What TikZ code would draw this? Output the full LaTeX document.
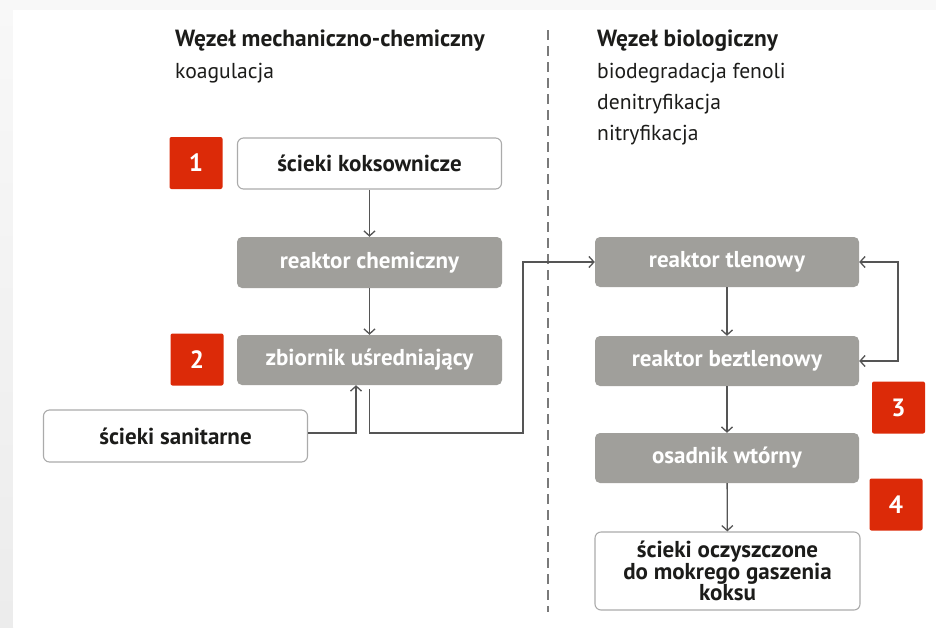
\documentclass[tikz,border=0pt]{standalone}
\usepackage{fontspec}
\setmainfont{PT Sans}
\usetikzlibrary{arrows.meta}
\definecolor{redsq}{HTML}{DC2A08}
\definecolor{boxgray}{HTML}{A09F9B}
\definecolor{linegray}{HTML}{555555}
\definecolor{bordergray}{HTML}{ABABAB}
\definecolor{txt}{HTML}{1C1C1A}
\definecolor{bgtop}{HTML}{F8F8F8}
\definecolor{bgbot}{HTML}{ECECEC}
\definecolor{dashgray}{HTML}{7A7A7A}
\begin{document}
\begin{tikzpicture}[x=1pt,y=-1pt,
  graybox/.style={fill=boxgray, rounded corners=5pt, minimum width=265pt, minimum height=51pt,
    text=white, font=\bfseries\fontsize{23}{24}\selectfont, inner sep=0pt},
  whitebox/.style={draw=bordergray, line width=1.1pt, fill=white, rounded corners=6pt,
    minimum width=264pt, minimum height=51pt, text=txt,
    font=\bfseries\fontsize{23}{24}\selectfont, inner sep=0pt, align=center},
  numsq/.style={fill=redsq, rounded corners=2pt, minimum width=53pt, minimum height=52pt,
    text=white, font=\bfseries\fontsize{25}{26}\selectfont, inner sep=0pt},
  flow/.style={draw=linegray, line width=1.3pt, -{Straight Barb[length=5pt,width=11pt]}},
  bothflow/.style={draw=linegray, line width=1.3pt, {Straight Barb[length=5pt,width=11pt]}-{Straight Barb[length=5pt,width=11pt]}},
  titletxt/.style={anchor=west, text=txt, font=\bfseries\fontsize{23.4}{24}\selectfont, inner sep=0pt},
  subtxt/.style={anchor=west, text=txt, font=\fontsize{21.6}{23}\selectfont, inner sep=0pt}
]
\useasboundingbox (0,0) rectangle (936,627);
% background
\fill[bgtop] (0,0) rectangle (936,627);
\shade[top color=bgtop, bottom color=bgbot] (0,0) rectangle (13,627);
\fill[white] (13,10) rectangle (936,627);

% headings
\node[titletxt] (t1) at (175,41) {Węzeł mechaniczno-chemiczny};
\node[subtxt] (s1) at (175,73) {koagulacja};
\node[titletxt] (t2) at (597,41) {Węzeł biologiczny};
\node[subtxt] (s2) at (597,73) {biodegradacja fenoli};
\node[subtxt] (s3) at (597,104) {denitryfikacja};
\node[subtxt] (s4) at (597,135) {nitryfikacja};

% divider
\draw[dashgray, line width=1.2pt, dash pattern=on 10pt off 6pt] (548,30) -- (548,612);

% boxes
\node[whitebox] (k1) at (369.5,163.5) {ścieki koksownicze};
\node[graybox] (rc) at (369.5,262.5) {reaktor chemiczny};
\node[graybox, minimum height=50pt] (zb) at (369.5,360) {zbiornik uśredniający};
\node[whitebox, minimum height=52pt] (san) at (175.5,436) {ścieki sanitarne};

\node[graybox, minimum width=264pt, minimum height=50pt] (rt) at (727,262) {reaktor tlenowy};
\node[graybox, minimum width=264pt, minimum height=50pt] (rb) at (727,361) {reaktor beztlenowy};
\node[graybox, minimum width=264pt, minimum height=50pt] (os) at (727,458) {osadnik wtórny};
\node[whitebox, minimum width=265pt, minimum height=78pt, font=\bfseries\fontsize{23}{21.5}\selectfont] (fin) at (727.5,571)
  {ścieki oczyszczone\\do mokrego gaszenia\\koksu};

% numbers
\node[numsq] (n1) at (196,163) {1};
\node[numsq] (n2) at (197,359.5) {2};
\node[numsq] (n3) at (898.5,407.5) {3};
\node[numsq] (n4) at (896,504.5) {4};

% connectors
\draw[flow] (k1) -- (rc);
\draw[flow] (rc) -- (zb);
\draw[flow] ([yshift=3pt]san.east) -| ([xshift=-13.5pt]zb.south);
\coordinate (c1) at (523,433);
\draw[flow] ([yshift=-4pt]zb.south) |- (c1) |- (rt.west);
\draw[flow] (rt) -- (rb);
\draw[flow] (rb) -- (os);
\draw[flow] (os) -- (fin);
\coordinate (c2) at (898,361);
\draw[bothflow] (rt.east) -| (c2) -- (rb.east);
\end{tikzpicture}
\end{document}
